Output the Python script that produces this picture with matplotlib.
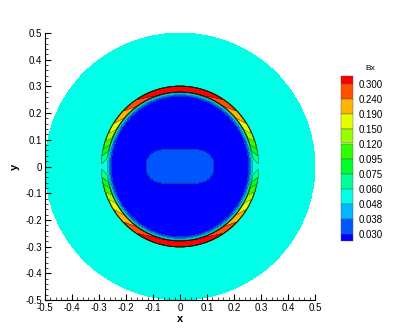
import numpy as np
import matplotlib
matplotlib.use("Agg")
import matplotlib.pyplot as plt
from matplotlib.colors import ListedColormap, BoundaryNorm
from matplotlib.patches import Rectangle

plt.rcParams['font.family'] = ['Liberation Sans', 'DejaVu Sans']

# ---- data ----
levels = [0.030, 0.038, 0.048, 0.060, 0.075, 0.095, 0.120, 0.150, 0.190, 0.240, 0.300]
level_labels = ["0.030", "0.038", "0.048", "0.060", "0.075", "0.095",
                "0.120", "0.150", "0.190", "0.240", "0.300"]
band_colors = ["#0000FF", "#0055FF", "#00B8FF", "#00FFE6", "#00FF96", "#00FF2A",
               "#30FF00", "#96FF00", "#E6FF00", "#FFB400", "#FF5000", "#FF0000"]
background_value = 0.055
core_value = 0.025
lobe_value = 0.034
lobe_half_length = 0.064
lobe_half_height = 0.062
ring_angles_deg = [0, 10, 20, 30, 45, 60, 75, 90]
ring_peak_values = [0.055, 0.080, 0.125, 0.175, 0.240, 0.310, 0.370, 0.400]
# core edge, blue band mid, blue band end, jump end, crest, outer edge
ring_radii = [0.255, 0.264, 0.270, 0.272, 0.290, 0.293]
domain_radius = 0.5
x_ticks = [-0.5, -0.4, -0.3, -0.2, -0.1, 0, 0.1, 0.2, 0.3, 0.4, 0.5]
tick_labels = ["-0.5", "-0.4", "-0.3", "-0.2", "-0.1", "0", "0.1", "0.2", "0.3", "0.4", "0.5"]

# ---- build field ----
n = 900
xs = np.linspace(-0.5, 0.5, n)
X, Y = np.meshgrid(xs, xs)
R = np.sqrt(X**2 + Y**2)
Re = np.sqrt(X**2 + (Y / 1.03)**2)
TH = np.degrees(np.arctan2(np.abs(Y), np.abs(X)))
peak = np.interp(TH, ring_angles_deg, ring_peak_values)

r0, r1, r2, r3, r4, r5 = ring_radii
Z = np.full_like(X, background_value)
inside = Re < r0
Z[inside] = core_value
dx = np.clip(np.abs(X) - lobe_half_length, 0, None)
dist = np.sqrt(dx**2 + Y**2)
Z[(dist < lobe_half_height) & inside] = lobe_value


def ramp(mask, v0, v1, ra, rb):
    t = (Re[mask] - ra) / (rb - ra)
    Z[mask] = v0 + (v1 - v0) * t


m = (Re >= r0) & (Re < r1)
ramp(m, core_value + 0.006, 0.041, r0, r1)
m = (Re >= r1) & (Re < r2)
ramp(m, 0.041, 0.052, r1, r2)
m = (Re >= r2) & (Re < r3)
inner_hi = np.maximum(0.85 * peak, 0.052)
ramp(m, 0.052, inner_hi[m], r2, r3)
m = (Re >= r3) & (Re < r4)
ramp(m, inner_hi[m], peak[m], r3, r4)
m = (Re >= r4) & (Re < r5)
ramp(m, peak[m], background_value, r4, r5)
Z = np.ma.masked_where(R > domain_radius, Z)

# ---- figure ----
W, H = 399, 336
fig = plt.figure(figsize=(W / 100, H / 100), dpi=100)
ax = fig.add_axes([45 / W, 1 - 300 / H, 270 / W, 267 / H])

cmap = ListedColormap(band_colors[1:-1])
cmap.set_under(band_colors[0])
cmap.set_over(band_colors[-1])
norm = BoundaryNorm(levels, cmap.N)
ax.contourf(X, Y, Z, levels=levels, cmap=cmap, norm=norm, extend='both')
ax.contour(X, Y, Z, levels=levels, colors='#1a1a1a', linewidths=0.25)

ax.set_xlim(-0.5, 0.5)
ax.set_ylim(-0.5, 0.5)
for s in ['top', 'right']:
    ax.spines[s].set_visible(False)
for s in ['left', 'bottom']:
    ax.spines[s].set_linewidth(0.8)
ax.set_xticks(x_ticks)
ax.set_xticklabels(tick_labels)
ax.set_yticks(x_ticks)
ax.set_yticklabels(tick_labels)
ax.set_xticks(np.arange(-0.5, 0.501, 0.02), minor=True)
ax.set_yticks(np.arange(-0.5, 0.501, 0.02), minor=True)
ax.tick_params(which='major', direction='in', length=4, width=0.8, labelsize=7, pad=2)
ax.tick_params(which='minor', direction='in', length=2, width=0.5)
ax.set_xlabel("x", fontsize=8, fontweight='bold', labelpad=1)
ax.set_ylabel("y", fontsize=8, fontweight='bold', labelpad=4)

# ---- legend ----
lx0, lx1 = 341 / W, 353 / W
top = 76
full = 15.0
ys = [top]
heights = [7.5] + [full] * 10 + [7.5]
for h in heights:
    ys.append(ys[-1] + h)
for i, h in enumerate(heights):
    col = band_colors[::-1][i]
    y_top = ys[i]
    fig.patches.append(Rectangle((lx0, 1 - (y_top + h) / H), lx1 - lx0, h / H,
                                 transform=fig.transFigure, facecolor=col,
                                 edgecolor='#555555', linewidth=0.3))
for i, lab in enumerate(level_labels[::-1]):
    yb = ys[i + 1]
    fig.text(359 / W, 1 - (yb + 1.5) / H, lab, fontsize=7, va='center', ha='left')
fig.text(370 / W, 1 - 68 / H, "Bx", fontsize=6, ha='center', va='center')

fig.savefig("out.png", dpi=100)
